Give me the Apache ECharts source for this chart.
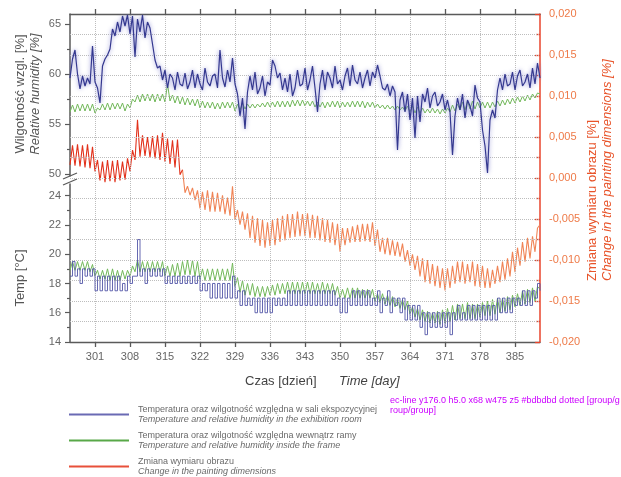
<!DOCTYPE html>
<html>
<head>
<meta charset="utf-8">
<script src="https://cdn.jsdelivr.net/npm/echarts/dist/echarts.min.js"></script>
<style>
html,body{margin:0;padding:0;background:#fff;}
#chart{width:621px;height:477px;}
#diag{position:absolute;left:390px;top:395px;width:230px;font:9px "Liberation Sans",Arial,sans-serif;color:#c0f;line-height:10px;word-break:break-all;}
</style>
</head>
<body>
<div id="chart"></div>
<div id="diag"></div>
<script>
// Sampling of the series: one value every half day, starting on day 296
const startDay = 296;
const stepDay = 0.5;
const xTicks = [301, 308, 315, 322, 329, 336, 343, 350, 357, 364, 371, 378, 385];
const humMajor = [50, 55, 60, 65];
const humMinor = [52.5, 57.5, 62.5];
const tempMajor = [14, 16, 18, 20, 22, 24];
const tempMinor = [15, 17, 19, 21, 23];
const changeGrid = [-0.0175, -0.015, -0.0125, -0.01, -0.0075, -0.005, -0.0025, 0,
                    0.0025, 0.005, 0.0075, 0.01, 0.0125, 0.015, 0.0175];

const nameRoom = 'Temperatura oraz wilgotność względna w sali ekspozycyjnej';
const nameFrame = 'Temperatura oraz wilgotność względna wewnątrz ramy';
const nameChange = 'Zmiana wymiaru obrazu';
const englishNames = {};
englishNames[nameRoom] = 'Temperature and relative humidity in the exhibition room';
englishNames[nameFrame] = 'Temperature and relative humidity inside the frame';
englishNames[nameChange] = 'Change in the painting dimensions';

const roomHumidity = [
 59.6,61.5, 62.4,60.0, 58.5,59.8, 58.8,59.6, 59.0,62.8, 59.2,58.6, 57.1,60.8, 61.5,61.9,
 62.5,64.5, 63.8,65.2, 64.2,65.8, 64.8,65.9, 64.0,65.8, 61.7,65.5, 64.2,65.9, 63.6,65.2,
 64.6,63.0, 61.4,60.6, 60.8,59.4, 60.4,58.6, 60.0,59.6, 58.4,60.2, 59.0,58.8, 60.1,58.5,
 59.2,60.4, 58.6,60.0, 59.0,58.4, 60.6,59.2, 58.8,59.8, 60.0,58.6, 62.4,59.6, 58.7,60.4,
 59.2,61.6, 59.0,58.0, 55.8,57.6, 54.5,58.2, 59.8,58.4, 60.2,58.0, 58.6,59.8, 57.8,59.2,
 58.9,61.4, 60.8,59.6, 60.1,58.4, 59.6,58.2, 60.0,57.8, 58.6,60.4, 58.8,59.0, 60.6,58.4,
 59.4,60.8, 58.6,56.2, 59.0,60.4, 58.4,60.2, 59.6,58.6, 60.8,59.0, 59.4,58.4, 59.8,60.6,
 58.8,60.9, 59.4,59.0, 60.2,58.6, 59.6,60.4, 58.8,60.2, 59.6,60.9, 59.8,58.6, 58.4,59.0,
 57.8,58.8, 58.2,52.4, 57.4,58.2, 56.2,58.0, 55.4,57.6, 53.6,57.8, 55.2,58.0, 57.2,58.6,
 56.6,57.8, 58.2,56.8, 57.2,58.0, 56.4,57.4, 56.2,51.9, 55.8,57.6, 56.4,58.0, 55.6,57.4,
 56.8,55.8, 58.9,57.6, 57.2,54.4, 52.8,50.1, 55.4,56.4, 55.6,58.4, 59.6,58.4, 60.0,58.8,
 59.0,60.2, 58.4,59.8, 60.4,58.8, 59.2,60.0, 58.6,60.6, 59.0,61.1, 59.6
];

const frameHumidity = [
 56.2,56.9, 56.2,57.0, 56.3,57.0, 56.3,57.0, 56.3,57.0, 56.1,56.6, 56.4,57.0, 56.4,57.1,
 56.4,57.1, 56.5,57.1, 56.5,57.1, 56.3,57.0, 56.6,57.5, 57.2,57.9, 57.2,58.0, 57.3,58.0,
 57.3,58.0, 57.2,58.0, 57.3,58.0, 57.2,59.0, 57.3,57.9, 57.1,57.8, 57.0,57.7, 56.9,57.6,
 56.9,57.5, 56.8,57.5, 56.6,57.3, 56.6,57.2, 56.6,57.2, 56.5,57.1, 56.5,57.2, 56.6,57.2,
 56.6,57.2, 56.3,57.0, 56.4,57.1, 56.5,57.0, 56.6,57.0, 56.6,57.0, 56.7,57.1, 56.7,57.2,
 56.7,57.2, 56.7,57.3, 56.7,57.3, 56.7,57.3, 56.7,57.4, 56.8,57.4, 56.8,57.4, 56.8,57.3,
 56.8,57.3, 56.7,57.2, 56.7,57.2, 56.6,57.2, 56.7,57.3, 56.7,57.3, 56.6,57.2, 56.7,57.2,
 56.7,57.3, 56.7,57.3, 56.7,57.3, 56.6,57.2, 56.7,57.2, 56.6,57.0, 56.6,56.9, 56.5,56.9,
 56.5,56.8, 56.4,56.8, 56.4,56.7, 56.3,56.8, 56.2,56.8, 56.1,56.7, 56.1,56.6, 56.1,56.5,
 56.1,56.6, 56.1,56.5, 56.0,56.5, 56.1,56.6, 56.2,56.9, 56.3,57.0, 56.4,57.2, 56.4,57.3,
 56.5,57.3, 56.5,57.2, 56.6,57.2, 56.6,57.2, 56.6,57.2, 56.7,57.3, 56.8,57.4, 56.9,57.5,
 57.0,57.6, 57.1,57.7, 57.2,57.8, 57.3,57.9, 57.4,58.0, 57.6,58.1, 58.0
];

const roomTemp = [
 18.5,19.5, 18.5,19.0, 18.0,19.0, 18.5,19.0, 18.5,19.0, 17.5,18.5, 17.5,18.5, 17.5,18.5,
 17.5,18.5, 17.5,18.5, 17.5,18.0, 17.5,18.5, 18.0,18.5, 18.5,21.0, 18.5,19.0, 18.0,19.0,
 18.5,19.0, 18.5,19.0, 18.5,19.0, 18.0,18.5, 18.0,18.5, 18.0,18.5, 18.0,18.5, 18.0,18.5,
 18.0,18.5, 18.0,18.5, 17.5,18.0, 17.5,18.0, 17.0,18.0, 17.0,18.0, 17.0,18.0, 17.0,18.0,
 17.0,18.5, 17.0,17.5, 16.5,17.5, 16.5,17.0, 16.5,17.0, 16.0,17.0, 16.0,17.0, 16.0,17.0,
 16.0,17.0, 16.5,17.0, 16.5,17.0, 16.5,17.5, 16.5,17.5, 16.5,17.5, 16.5,17.5, 16.5,17.5,
 16.5,17.5, 16.5,17.5, 16.5,17.5, 16.5,17.5, 16.5,17.5, 16.5,17.0, 16.0,17.0, 16.0,17.0,
 16.5,17.5, 16.5,17.5, 16.5,17.5, 16.5,17.5, 16.5,17.0, 16.5,17.5, 16.0,17.0, 16.5,17.5,
 16.0,17.0, 16.5,17.0, 16.0,17.0, 15.5,16.5, 15.5,16.5, 15.5,16.5, 15.0,16.0, 14.5,16.0,
 15.0,16.0, 15.0,16.0, 15.0,16.0, 15.0,16.0, 14.5,16.0, 15.5,16.5, 15.5,16.0, 15.5,16.5,
 15.5,16.5, 15.5,16.5, 15.5,16.5, 15.5,16.5, 15.5,16.5, 15.5,17.0, 16.0,17.0, 16.0,17.0,
 16.0,17.0, 16.5,17.0, 16.5,17.5, 16.5,17.5, 16.5,17.5, 17.0,18.0, 17.5
];

const frameTemp = [
 18.9,19.5, 18.9,19.5, 18.9,19.5, 18.9,19.5, 18.8,19.3, 18.5,18.9, 18.3,18.9, 18.3,19.0,
 18.2,19.0, 18.2,18.9, 18.2,18.9, 18.3,18.9, 18.5,19.2, 18.8,19.6, 18.8,19.5, 18.8,19.5,
 18.8,19.5, 18.8,19.5, 18.8,19.5, 18.5,19.2, 18.5,19.3, 18.5,19.4, 18.5,19.5, 18.6,19.6,
 18.6,19.6, 18.5,19.5, 18.3,19.0, 18.2,19.0, 18.2,19.0, 18.2,19.0, 18.2,19.0, 18.2,19.0,
 18.2,19.4, 17.8,18.4, 17.4,18.2, 17.2,18.0, 17.2,18.0, 17.1,17.8, 17.1,17.8, 17.1,17.8,
 17.2,17.9, 17.2,18.0, 17.3,18.0, 17.3,18.1, 17.3,18.1, 17.3,18.1, 17.3,18.1, 17.3,18.1,
 17.3,18.1, 17.3,18.0, 17.3,18.1, 17.3,18.0, 17.3,18.0, 17.2,17.8, 17.0,17.6, 17.0,17.7,
 17.0,17.7, 17.0,17.7, 17.0,17.6, 17.0,17.6, 17.0,17.6, 16.8,17.3, 16.7,17.3, 16.6,17.2,
 16.5,17.1, 16.4,17.0, 16.3,16.9, 16.2,16.8, 15.9,16.4, 15.7,16.3, 15.5,16.2, 15.4,16.1,
 15.3,16.0, 15.3,16.1, 15.2,16.2, 15.3,16.3, 15.4,16.5, 15.5,16.6, 15.6,16.6, 15.6,16.7,
 15.6,16.6, 15.6,16.6, 15.7,16.7, 15.8,16.8, 15.8,16.9, 15.9,17.0, 16.0,17.0, 16.1,17.1,
 16.2,17.2, 16.4,17.3, 16.5,17.5, 16.6,17.6, 16.7,17.7, 16.8,17.8, 17.6
];

const dimChange = [
 0.0016,0.0040, 0.0015,0.0041, 0.0014,0.0040, 0.0013,0.0041, 0.0012,0.0038, 0.0008,0.0022,
 -0.0003,0.0020, -0.0005,0.0022, -0.0004,0.0021, -0.0005,0.0022, -0.0003,0.0020, -0.0002,0.0024,
 0.0008,0.0034, 0.0022,0.0071, 0.0026,0.0052, 0.0027,0.0050, 0.0025,0.0051, 0.0024,0.0052,
 0.0022,0.0055, 0.0020,0.0048, 0.0017,0.0046, 0.0013,0.0047, 0.0004,0.0010, -0.0018,-0.0010,
 -0.0021,-0.0012, -0.0027,-0.0015, -0.0037,-0.0017, -0.0039,-0.0015, -0.0041,-0.0017, -0.0041,-0.0018,
 -0.0041,-0.0021, -0.0044,-0.0024, -0.0046,-0.0010, -0.0051,-0.0039, -0.0057,-0.0041, -0.0063,-0.0043,
 -0.0073,-0.0046, -0.0079,-0.0049, -0.0083,-0.0051, -0.0085,-0.0054, -0.0083,-0.0051, -0.0082,-0.0049,
 -0.0078,-0.0046, -0.0076,-0.0044, -0.0073,-0.0044, -0.0072,-0.0041, -0.0071,-0.0044, -0.0071,-0.0043,
 -0.0073,-0.0045, -0.0073,-0.0046, -0.0076,-0.0049, -0.0078,-0.0051, -0.0079,-0.0054, -0.0082,-0.0056,
 -0.0090,-0.0061, -0.0082,-0.0061, -0.0079,-0.0059, -0.0078,-0.0057, -0.0078,-0.0056, -0.0077,-0.0056,
 -0.0078,-0.0054, -0.0083,-0.0063, -0.0090,-0.0073, -0.0093,-0.0073, -0.0094,-0.0076, -0.0095,-0.0078,
 -0.0096,-0.0080, -0.0102,-0.0088, -0.0107,-0.0093, -0.0112,-0.0095, -0.0120,-0.0098, -0.0127,-0.0100,
 -0.0129,-0.0105, -0.0132,-0.0107, -0.0134,-0.0110, -0.0137,-0.0110, -0.0134,-0.0107, -0.0129,-0.0102,
 -0.0127,-0.0102, -0.0129,-0.0105, -0.0127,-0.0102, -0.0132,-0.0105, -0.0133,-0.0107, -0.0134,-0.0110,
 -0.0134,-0.0112, -0.0129,-0.0107, -0.0127,-0.0102, -0.0124,-0.0098, -0.0120,-0.0090, -0.0115,-0.0085,
 -0.0107,-0.0078, -0.0102,-0.0073, -0.0098,-0.0071, -0.0090,-0.0061, -0.0057
];
const darkRedEndIndex = 45;

function toPoints(values) {
  return values.map(function (v, i) { return [startDay + i * stepDay, v]; });
}

const FONT = '"Liberation Sans", Arial, sans-serif';
const AXIS_GRAY = '#5a5a5a';
const LABEL_GRAY = '#666666';
const ORANGE = '#ee7a48';
const RED_AXIS = '#e8452c';
const BLUE = '#34388f';
const BLUE_LEGEND = '#6a6ab4';
const GREEN = '#72b85a';
const RED_DARK = '#e2321c';
const RED_LIGHT = '#f08456';
const GRID_LINE = { type: 'dotted', color: '#bdbdbd', width: 1 };

const chart = echarts.init(document.getElementById('chart'), null, { renderer: 'canvas' });

const changePoints = toPoints(dimChange);
const gridLineData = xTicks.map(function (v) { return { xAxis: v }; })
  .concat(changeGrid.map(function (v) { return { yAxis: v }; }));

const option = {
  animation: false,
  textStyle: { fontFamily: FONT },
  grid: [
    { left: 70, top: 14, width: 470, height: 328 },
    { left: 70, top: 14, width: 470, height: 162 },
    { left: 70, top: 184, width: 470, height: 158 }
  ],
  xAxis: [
    {
      type: 'value', gridIndex: 0, min: 296, max: 390, show: false,
      axisLine: { show: false, onZero: false }, axisTick: { show: false },
      axisLabel: { show: false }, splitLine: { show: false }
    },
    {
      type: 'value', gridIndex: 1, position: 'top', min: 296, max: 390,
      axisLine: { show: true, onZero: false, lineStyle: { color: AXIS_GRAY, width: 1.3 } },
      axisTick: { show: true, customValues: xTicks, length: 5, lineStyle: { color: AXIS_GRAY, width: 1.3 } },
      axisLabel: { show: false },
      splitLine: { show: false }
    },
    {
      type: 'value', gridIndex: 2, position: 'bottom', min: 296, max: 390,
      axisLine: { show: true, onZero: false, lineStyle: { color: AXIS_GRAY, width: 1.3 } },
      axisTick: { show: true, customValues: xTicks, length: 5, lineStyle: { color: AXIS_GRAY, width: 1.3 } },
      axisLabel: { show: true, customValues: xTicks, color: LABEL_GRAY, fontSize: 11, margin: 9, fontFamily: FONT },
      splitLine: { show: false }
    }
  ],
  yAxis: [
    {
      type: 'value', gridIndex: 0, position: 'right', min: -0.02, max: 0.02, interval: 0.005,
      axisLine: { show: true, onZero: false, lineStyle: { color: RED_AXIS, width: 1.5 } },
      axisTick: { show: true, inside: true, length: 5, lineStyle: { color: RED_AXIS, width: 1.3 } },
      minorTick: { show: true, splitNumber: 2, length: 4, lineStyle: { color: RED_AXIS, width: 1.3 } },
      axisLabel: {
        color: ORANGE, fontSize: 11, margin: 9, fontFamily: FONT,
        formatter: function (v) { return v.toFixed(3).replace('.', ','); }
      },
      splitLine: { show: false },
      minorSplitLine: { show: false }
    },
    {
      type: 'value', gridIndex: 1, position: 'left', min: 49.8, max: 66,
      axisLine: { show: true, onZero: false, lineStyle: { color: AXIS_GRAY, width: 1.5 } },
      axisTick: { show: true, customValues: humMajor, length: 5, lineStyle: { color: AXIS_GRAY, width: 1.2 } },
      axisLabel: { show: true, customValues: humMajor, color: LABEL_GRAY, fontSize: 11, margin: 9, fontFamily: FONT },
      splitLine: { show: false }
    },
    {
      type: 'value', gridIndex: 1, position: 'left', min: 49.8, max: 66,
      axisLine: { show: false, onZero: false },
      axisTick: { show: true, customValues: humMinor, length: 3, lineStyle: { color: AXIS_GRAY, width: 1.2 } },
      axisLabel: { show: false },
      splitLine: { show: false }
    },
    {
      type: 'value', gridIndex: 2, position: 'left', min: 14, max: 24.8,
      axisLine: { show: true, onZero: false, lineStyle: { color: AXIS_GRAY, width: 1.5 } },
      axisTick: { show: true, customValues: tempMajor, length: 5, lineStyle: { color: AXIS_GRAY, width: 1.2 } },
      axisLabel: { show: true, customValues: tempMajor, color: LABEL_GRAY, fontSize: 11, margin: 9, fontFamily: FONT },
      splitLine: { show: false }
    },
    {
      type: 'value', gridIndex: 2, position: 'left', min: 14, max: 24.8,
      axisLine: { show: false, onZero: false },
      axisTick: { show: true, customValues: tempMinor, length: 3, lineStyle: { color: AXIS_GRAY, width: 1.2 } },
      axisLabel: { show: false },
      splitLine: { show: false }
    }
  ],
  legend: {
    show: true, orient: 'vertical', left: 69, top: 405, height: 90, padding: 0,
    itemWidth: 60, itemHeight: 2, itemGap: 7, icon: 'rect', selectedMode: false,
    data: [
      { name: nameRoom, itemStyle: { color: BLUE_LEGEND } },
      { name: nameFrame, itemStyle: { color: '#58a848' } },
      { name: nameChange, itemStyle: { color: '#e8503a' } }
    ],
    formatter: function (name) { return '{a|' + name + '}\n{b|' + englishNames[name] + '}'; },
    textStyle: {
      padding: [0, 0, 0, 4],
      rich: {
        a: { fontSize: 9, color: '#6a6a6a', lineHeight: 10, fontFamily: FONT },
        b: { fontSize: 9, color: '#6a6a6a', lineHeight: 10, fontStyle: 'italic', fontFamily: FONT }
      }
    }
  },
  series: [
    {
      name: nameChange, type: 'line', xAxisIndex: 0, yAxisIndex: 0,
      data: changePoints.slice(darkRedEndIndex), showSymbol: false, color: RED_LIGHT,
      lineStyle: { width: 1.1, color: RED_LIGHT }, z: 3,
      markLine: {
        silent: true, symbol: 'none', label: { show: false }, precision: 4,
        lineStyle: GRID_LINE, emphasis: { disabled: true },
        data: gridLineData
      }
    },
    {
      name: nameChange, type: 'line', xAxisIndex: 0, yAxisIndex: 0,
      data: changePoints.slice(0, darkRedEndIndex + 1), showSymbol: false, color: RED_DARK,
      lineStyle: { width: 1.1, color: RED_DARK }, z: 3
    },
    {
      name: nameFrame, type: 'line', xAxisIndex: 1, yAxisIndex: 1,
      data: toPoints(frameHumidity), showSymbol: false, color: GREEN,
      lineStyle: { width: 1, color: GREEN }, z: 4
    },
    {
      name: nameRoom, type: 'line', xAxisIndex: 1, yAxisIndex: 1,
      data: toPoints(roomHumidity), showSymbol: false, color: BLUE,
      lineStyle: { width: 1.2, color: BLUE, shadowColor: 'rgba(110,110,200,0.85)', shadowBlur: 4 }, z: 5
    },
    {
      name: nameFrame, type: 'line', xAxisIndex: 2, yAxisIndex: 3,
      data: toPoints(frameTemp), showSymbol: false, color: GREEN,
      lineStyle: { width: 1, color: GREEN }, z: 4
    },
    {
      name: nameRoom, type: 'line', xAxisIndex: 2, yAxisIndex: 3, step: 'end',
      data: toPoints(roomTemp), showSymbol: false, color: BLUE,
      lineStyle: { width: 0.9, color: '#5558a8' }, z: 5
    }
  ],
  graphic: [
    { type: 'line', z: 2, shape: { x1: 63, y1: 179, x2: 77, y2: 173 }, style: { stroke: AXIS_GRAY, lineWidth: 1.3 } },
    { type: 'line', z: 2, shape: { x1: 63, y1: 185, x2: 77, y2: 179 }, style: { stroke: AXIS_GRAY, lineWidth: 1.3 } },
    { type: 'text', x: 20, y: 94, rotation: Math.PI / 2,
      style: { text: 'Wilgotność wzgl. [%]', font: '13px ' + FONT, fill: '#555', align: 'center', verticalAlign: 'middle' } },
    { type: 'text', x: 35, y: 94, rotation: Math.PI / 2,
      style: { text: 'Relative humidity [%]', font: 'italic 13px ' + FONT, fill: '#555', align: 'center', verticalAlign: 'middle' } },
    { type: 'text', x: 20, y: 278, rotation: Math.PI / 2,
      style: { text: 'Temp [°C]', font: '13px ' + FONT, fill: '#555', align: 'center', verticalAlign: 'middle' } },
    { type: 'text', x: 592, y: 281, rotation: Math.PI / 2,
      style: { text: 'Zmiana wymiaru obrazu [%]', font: '13px ' + FONT, fill: '#e8542a', align: 'left', verticalAlign: 'middle' } },
    { type: 'text', x: 607, y: 281, rotation: Math.PI / 2,
      style: { text: 'Change in the painting dimensions [%]', font: 'italic 13px ' + FONT, fill: '#e8542a', align: 'left', verticalAlign: 'middle' } },
    { type: 'text', x: 245, y: 381,
      style: { text: 'Czas [dzień]', font: '13px ' + FONT, fill: '#444', align: 'left', verticalAlign: 'middle' } },
    { type: 'text', x: 339, y: 381,
      style: { text: 'Time [day]', font: 'italic 13px ' + FONT, fill: '#444', align: 'left', verticalAlign: 'middle' } }
  ]
};

chart.setOption(option);

// Diagnostic: list wide, flat elements drawn near the panel break
try {
  const list = chart.getZr().storage.getDisplayList(true);
  const out = [];
  list.forEach(function (el) {
    if (!el.getBoundingRect) return;
    const r = el.getBoundingRect().clone();
    if (el.transform) r.applyTransform(el.transform);
    if (r.width > 200 && r.height < 8 && r.y > 160 && r.y < 195) {
      let names = [];
      let p = el.parent;
      while (p && names.length < 4) { names.push(p.name || p.type || '?'); p = p.parent; }
      out.push(el.type + ' y' + r.y.toFixed(1) + ' h' + r.height.toFixed(1) + ' x' + r.x.toFixed(0) + ' w' + r.width.toFixed(0) +
        ' z' + el.z + ' ' + (el.style ? (el.style.stroke + ' ' + (el.style.lineDash || '')) : '') + ' [' + names.join('/') + ']');
    }
  });
  document.getElementById('diag').textContent = out.length ? out.slice(0, 6).join(' | ') : 'none';
} catch (e) {
  document.getElementById('diag').textContent = 'err ' + e.message;
}
</script>
</body>
</html>
